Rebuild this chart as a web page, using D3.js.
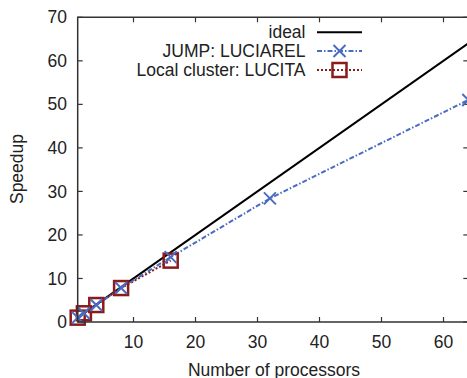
<!doctype html>
<html>
<head>
    <title>speedup</title>
    <script src="https://d3js.org/d3.v7.min.js"></script>
</head>
<style>
    body { margin: 0; background: #fff; }
    text { font-family: "Liberation Sans", Arial, sans-serif; fill: #222; }
</style>
<body>
<script>

    // data
    var idealProcs = [1, 64];
    var idealSpeedup = [1, 64];
    var jumpProcs = [1, 2, 4, 8, 16, 32, 64];
    var jumpSpeedup = [1, 2, 3.9, 7.8, 14.9, 28.4, 51];
    var localProcs = [1, 2, 4, 8, 16];
    var localSpeedup = [1, 2, 3.9, 7.8, 14.1];
    var xTicks = [10, 20, 30, 40, 50, 60];
    var yTicks = [0, 10, 20, 30, 40, 50, 60, 70];
    var seriesNames = ['ideal', 'JUMP: LUCIAREL', 'Local cluster: LUCITA'];

    var width = 467, height = 378;
    var plotLeft = 77.7, plotRight = 468.3, plotTop = 17.3, plotBottom = 322;

    var svg = d3.select('body').append('svg')
                .attr('width', width)
                .attr('height', height);

    var x = d3.scaleLinear().domain([1, 64]).range([plotLeft, plotRight]);
    var y = d3.scaleLinear().domain([0, 70]).range([plotBottom, plotTop]);

    var frameColor = '#333';
    var fontSize = 17.5;

    // ticks (inward, mirrored)
    var tickG = svg.append('g').attr('stroke', frameColor).attr('stroke-width', 1.2);
    xTicks.forEach(function(t) {
        tickG.append('line').attr('x1', x(t)).attr('x2', x(t)).attr('y1', plotBottom).attr('y2', plotBottom - 5);
        tickG.append('line').attr('x1', x(t)).attr('x2', x(t)).attr('y1', plotTop).attr('y2', plotTop + 5);
    });
    yTicks.forEach(function(t) {
        tickG.append('line').attr('x1', plotLeft).attr('x2', plotLeft + 5).attr('y1', y(t)).attr('y2', y(t));
        tickG.append('line').attr('x1', plotRight).attr('x2', plotRight - 5).attr('y1', y(t)).attr('y2', y(t));
    });

    // tick labels
    svg.append('g').selectAll('text').data(xTicks).enter().append('text')
        .attr('x', function(d) { return x(d); })
        .attr('y', 348)
        .attr('text-anchor', 'middle')
        .style('font-size', fontSize + 'px')
        .text(function(d) { return d; });

    svg.append('g').selectAll('text').data(yTicks).enter().append('text')
        .attr('x', 67)
        .attr('y', function(d) { return y(d); })
        .attr('dy', '0.35em')
        .attr('text-anchor', 'end')
        .style('font-size', fontSize + 'px')
        .text(function(d) { return d; });

    // axis labels
    svg.append('text')
        .attr('x', 274).attr('y', 375.5)
        .attr('text-anchor', 'middle')
        .style('font-size', fontSize + 'px')
        .text('Number of processors');

    svg.append('text')
        .attr('transform', 'translate(23, 169) rotate(-90)')
        .attr('text-anchor', 'middle')
        .style('font-size', fontSize + 'px')
        .text('Speedup');

    var plot = svg.append('g');
    var line = d3.line()
                 .x(function(d) { return x(d[0]); })
                 .y(function(d) { return y(d[1]); });

    var blue = '#4a6cc0', red = '#8b1a1a';

    function pairs(a, b) { return a.map(function(v, i) { return [v, b[i]]; }); }

    // series lines
    plot.append('path').datum(pairs(idealProcs, idealSpeedup))
        .attr('d', line).attr('fill', 'none').attr('stroke', '#000').attr('stroke-width', 2);
    plot.append('path').datum(pairs(localProcs, localSpeedup))
        .attr('d', line).attr('fill', 'none').attr('stroke', red).attr('stroke-width', 2)
        .attr('stroke-dasharray', '2,2');
    plot.append('path').datum(pairs(jumpProcs, jumpSpeedup))
        .attr('d', line).attr('fill', 'none').attr('stroke', blue).attr('stroke-width', 2)
        .attr('stroke-dasharray', '5,2,1.5,2');

    function drawCross(g, cx, cy) {
        g.append('path')
         .attr('d', 'M' + (cx - 6) + ',' + (cy - 6) + 'L' + (cx + 6) + ',' + (cy + 6) +
                    'M' + (cx - 6) + ',' + (cy + 6) + 'L' + (cx + 6) + ',' + (cy - 6))
         .attr('stroke', blue).attr('stroke-width', 2).attr('fill', 'none');
    }
    function drawSquare(g, cx, cy) {
        g.append('rect')
         .attr('x', cx - 7).attr('y', cy - 7).attr('width', 14).attr('height', 14)
         .attr('fill', 'none').attr('stroke', red).attr('stroke-width', 2.5);
    }

    pairs(localProcs, localSpeedup).forEach(function(d) { drawSquare(plot, x(d[0]), y(d[1])); });
    pairs(jumpProcs, jumpSpeedup).forEach(function(d) { drawCross(plot, x(d[0]), y(d[1])); });

    // frame
    svg.append('path')
        .attr('d', 'M' + plotLeft + ',' + plotTop + 'L' + plotRight + ',' + plotTop + 'L' + plotRight + ',' + plotBottom +
                   'L' + plotLeft + ',' + plotBottom + 'Z')
        .attr('fill', 'none').attr('stroke', frameColor).attr('stroke-width', 1.5);

    // legend
    var legend = svg.append('g');
    var rowY = [32.3, 51, 70];
    seriesNames.forEach(function(name, i) {
        legend.append('text')
            .attr('x', 305.5).attr('y', rowY[i]).attr('dy', '0.35em')
            .attr('text-anchor', 'end')
            .style('font-size', fontSize + 'px')
            .text(name);
    });
    legend.append('line').attr('x1', 317).attr('x2', 362).attr('y1', rowY[0]).attr('y2', rowY[0])
        .attr('stroke', '#000').attr('stroke-width', 2);
    legend.append('line').attr('x1', 317).attr('x2', 362).attr('y1', rowY[1]).attr('y2', rowY[1])
        .attr('stroke', blue).attr('stroke-width', 2).attr('stroke-dasharray', '5,2,1.5,2');
    drawCross(legend, 339.5, rowY[1]);
    legend.append('line').attr('x1', 317).attr('x2', 362).attr('y1', rowY[2]).attr('y2', rowY[2])
        .attr('stroke', red).attr('stroke-width', 2).attr('stroke-dasharray', '2,2');
    drawSquare(legend, 339.5, rowY[2]);

</script>
</body>
</html>
